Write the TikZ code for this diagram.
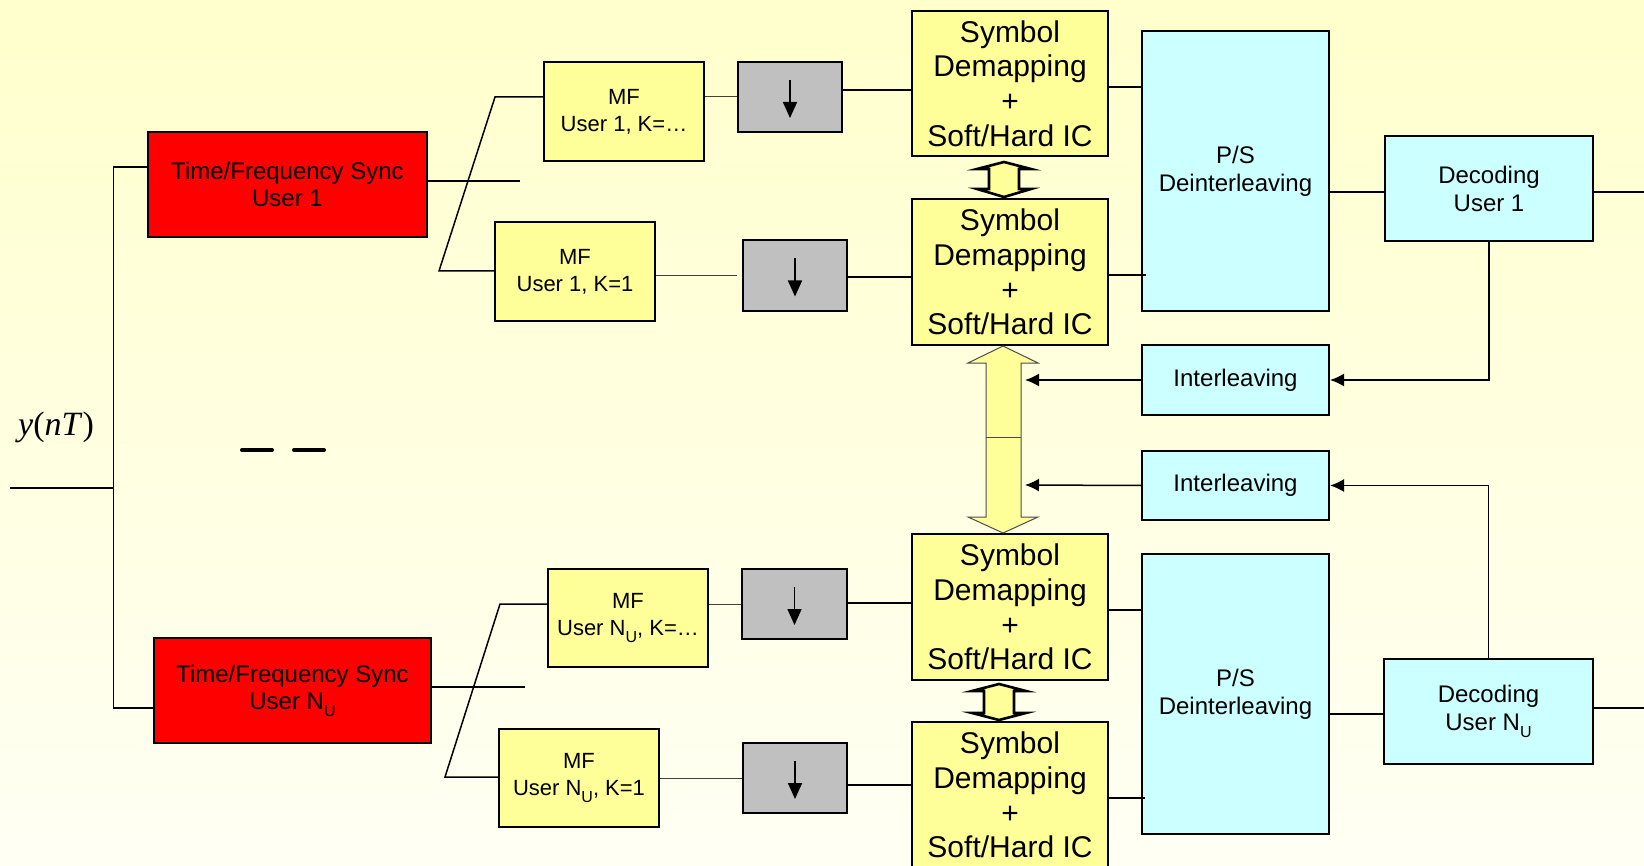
\documentclass[tikz,border=0pt]{standalone}
\usepackage{fontspec}
\setmainfont{Liberation Sans}
\newfontfamily\serifface{Liberation Serif}
\usetikzlibrary{arrows.meta}
\definecolor{bgtop}{HTML}{FFFFCC}
\definecolor{bgbot}{HTML}{FFFFF4}
\definecolor{syncred}{HTML}{FF0000}
\definecolor{blockyellow}{HTML}{FFFF99}
\definecolor{blockgray}{HTML}{C0C0C0}
\definecolor{blockcyan}{HTML}{CCFFFF}
\newcommand{\NU}{N\raisebox{-3.5pt}{\fontsize{8}{8}\selectfont U}}
% block from its corner points: style, name, x1, y1, x2, y2, text
\newcommand{\blk}[7]{%
  \pgfmathsetmacro\blkw{(#5-#3)/2}%
  \pgfmathsetmacro\blkh{(#6-#4)/2}%
  \node[#1, minimum width=\blkw pt, minimum height=\blkh pt] (#2)
    at ({(#3+#5)/2},{(#4+#6)/2}) {#7};}

\begin{document}
\begin{tikzpicture}[x=0.5pt,y=-0.5pt,
  block/.style={draw=black, line width=1pt, inner sep=0pt, align=center},
  sync/.style={block, fill=syncred, font=\fontsize{12}{13.5}\selectfont},
  mf/.style={block, fill=blockyellow, font=\fontsize{11}{13.5}\selectfont},
  demap/.style={block, fill=blockyellow, font=\fontsize{15}{17.3}\selectfont},
  decim/.style={block, fill=blockgray},
  deint/.style={block, fill=blockcyan, font=\fontsize{12}{14}\selectfont},
  wire/.style={line width=0.75pt},
  thinwire/.style={line width=0.5pt, draw=black!75},
  fb/.style={wire, -{Latex[length=7pt,width=6.5pt]}},
  downarrow/.style={line width=0.8pt, -{Triangle[length=8pt,width=7pt]}},
  ichollow/.style={line width=1.3pt, fill=blockyellow, line join=miter},
  icbig/.style={line width=0.5pt, draw=black!70, fill=blockyellow},
]
% page and background
\useasboundingbox (0,0) rectangle (1644,866);
\shade[top color=bgtop, bottom color=bgbot] (0,0) rectangle (1644,866);
\clip (0,0) rectangle (1644,866);

% synchronisation blocks
\blk{sync}{red1}{148}{132}{427}{237}{Time/Frequency Sync\\User 1}
\blk{sync}{red2}{154}{638}{431}{743}{Time/Frequency Sync\\User \NU}

% matched filters
\blk{mf}{mf1}{544}{62}{704}{161}{MF\\User 1, K=…}
\blk{mf}{mf2}{495}{222}{655}{321}{MF\\User 1, K=1}
\blk{mf}{mf3}{548}{569}{708}{667}{MF\\User \NU, K=…}
\blk{mf}{mf4}{499}{729}{659}{827}{MF\\User \NU, K=1}

% down-samplers
\blk{decim}{g1}{738}{62}{842}{132}{}
\blk{decim}{g2}{743}{240}{847}{311}{}
\blk{decim}{g3}{742}{569}{847}{639}{}
\blk{decim}{g4}{743}{743}{847}{813}{}
\foreach \g in {g1,g2,g3,g4}
  \draw[downarrow] ([yshift=8.5pt]\g.center) -- ([yshift=-10.5pt]\g.center);

% symbol demapping blocks
\blk{demap}{sd1}{912}{11}{1108}{156}{Symbol\\Demapping\\+\\Soft/Hard IC}
\blk{demap}{sd2}{912}{199}{1108}{345}{Symbol\\Demapping\\+\\Soft/Hard IC}
\blk{demap}{sd3}{912}{534}{1108}{680}{Symbol\\Demapping\\+\\Soft/Hard IC}
\blk{demap}{sd4}{912}{722}{1108}{868}{Symbol\\Demapping\\+\\Soft/Hard IC}

% deinterleaving, interleaving and decoding
\blk{deint}{ps1}{1142}{31}{1329}{311}{P/S\\Deinterleaving}
\blk{deint}{ps2}{1142}{554}{1329}{834}{P/S\\Deinterleaving}
\blk{deint}{il1}{1142}{345}{1329}{415}{Interleaving}
\blk{deint}{il2}{1142}{451}{1329}{520}{Interleaving}
\blk{deint}{dec1}{1385}{136}{1593}{241}{Decoding\\User 1}
\blk{deint}{dec2}{1384}{659}{1593}{764}{Decoding\\User \NU}

% received signal and distribution bus
\node (ylab) at (56,427) {\serifface\fontsize{17}{17}\selectfont\textit{y}(\textit{nT})};
\coordinate (in) at (10,488);
\coordinate (busT) at (113.6,167);
\coordinate (busB) at (113.6,708);
\draw[wire] (in) -- (in -| busT);
\draw[wire] (red1.west |- busT) -- (busT) -- (busB) -- (red2.west |- busB);

% further users
\draw[line width=2pt, line cap=round] (242,450) -- (272,450);
\draw[line width=2pt, line cap=round] (294,450) -- (324,450);

% sync outputs and filter forks
\coordinate (r1out) at (520,181);
\coordinate (r2out) at (525,687);
\draw[wire] (red1.east |- r1out) -- (r1out);
\draw[wire] (red2.east |- r2out) -- (r2out);
\coordinate (fk1lo) at (439,271);
\coordinate (fk1hi) at (495,97);
\coordinate (fk2lo) at (445,777);
\coordinate (fk2hi) at (500,604);
\draw[wire] (mf2.west |- fk1lo) -- (fk1lo) -- (fk1hi) -- (mf1.west |- fk1hi);
\draw[wire] (mf4.west |- fk2lo) -- (fk2lo) -- (fk2hi) -- (mf3.west |- fk2hi);

% signal levels of the branch wires
\coordinate (b1) at (0,90);   \coordinate (c1) at (0,87);
\coordinate (b2) at (0,277);  \coordinate (c2) at (0,275);
\coordinate (b3) at (0,603);  \coordinate (c3) at (0,610);
\coordinate (b4) at (0,785);  \coordinate (c4) at (0,798);
\coordinate (p1) at (0,192);  \coordinate (o1) at (1644,192);
\coordinate (p2) at (0,714);  \coordinate (o2) at (1644,708);

% filter to down-sampler
\draw[thinwire] (mf1.east |- g1.west) -- (g1.west);
\draw[thinwire] (mf2.east |- g2.west) -- ([xshift=-2.5pt]g2.west);
\draw[thinwire] (mf3.east |- g3.west) -- (g3.west);
\draw[thinwire] (mf4.east |- g4.west) -- (g4.west);

% down-sampler to demapper
\draw[wire] (g1.east |- b1) -- (sd1.west |- b1);
\draw[wire] (g2.east |- b2) -- (sd2.west |- b2);
\draw[wire] (g3.east |- b3) -- (sd3.west |- b3);
\draw[wire] (g4.east |- b4) -- (sd4.west |- b4);

% demapper to P/S
\draw[wire] (sd1.east |- c1) -- (ps1.west |- c1);
\draw[wire] (sd2.east |- c2) -- ([xshift=2.5pt]ps1.west |- c2);
\draw[wire] (sd3.east |- c3) -- (ps2.west |- c3);
\draw[wire] (sd4.east |- c4) -- ([xshift=2pt]ps2.west |- c4);

% P/S to decoder and decoder outputs
\draw[wire] (ps1.east |- p1) -- (dec1.west |- p1);
\draw[wire] (ps2.east |- p2) -- (dec2.west |- p2);
\draw[wire] (dec1.east |- o1) -- (o1);
\draw[wire] (dec2.east |- o2) -- (o2);

% feedback through the interleavers
\coordinate (ic1) at (1025,380);
\coordinate (ic2) at (1025,485);
\draw[fb] (dec1.south) |- (il1.east);
\draw[fb] (dec2.north) |- (il2.east);
\draw[fb] (il1.west) -- (ic1);
\draw[fb] (il2.west) -- (ic2);

% interference cancellation exchange between users
\draw[icbig] (1003,346) -- (1038,363) -- (1021,363) -- (1021,517) -- (1038,517)
  -- (1003,533) -- (968,517) -- (986,517) -- (986,363) -- (968,363) -- cycle;
\draw[icbig] (986,437) -- (1021,437);

% interference cancellation exchange within a user
\draw[ichollow] (1004,162) -- (1031,169) -- (1019,169) -- (1019,189) -- (1031,189)
  -- (1004,197) -- (977,189) -- (989,189) -- (989,169) -- (977,169) -- cycle;
\draw[ichollow] (999,684) -- (1026,691) -- (1014,691) -- (1014,713) -- (1026,713)
  -- (999,720) -- (972,713) -- (984,713) -- (984,691) -- (972,691) -- cycle;
\end{tikzpicture}
\end{document}
